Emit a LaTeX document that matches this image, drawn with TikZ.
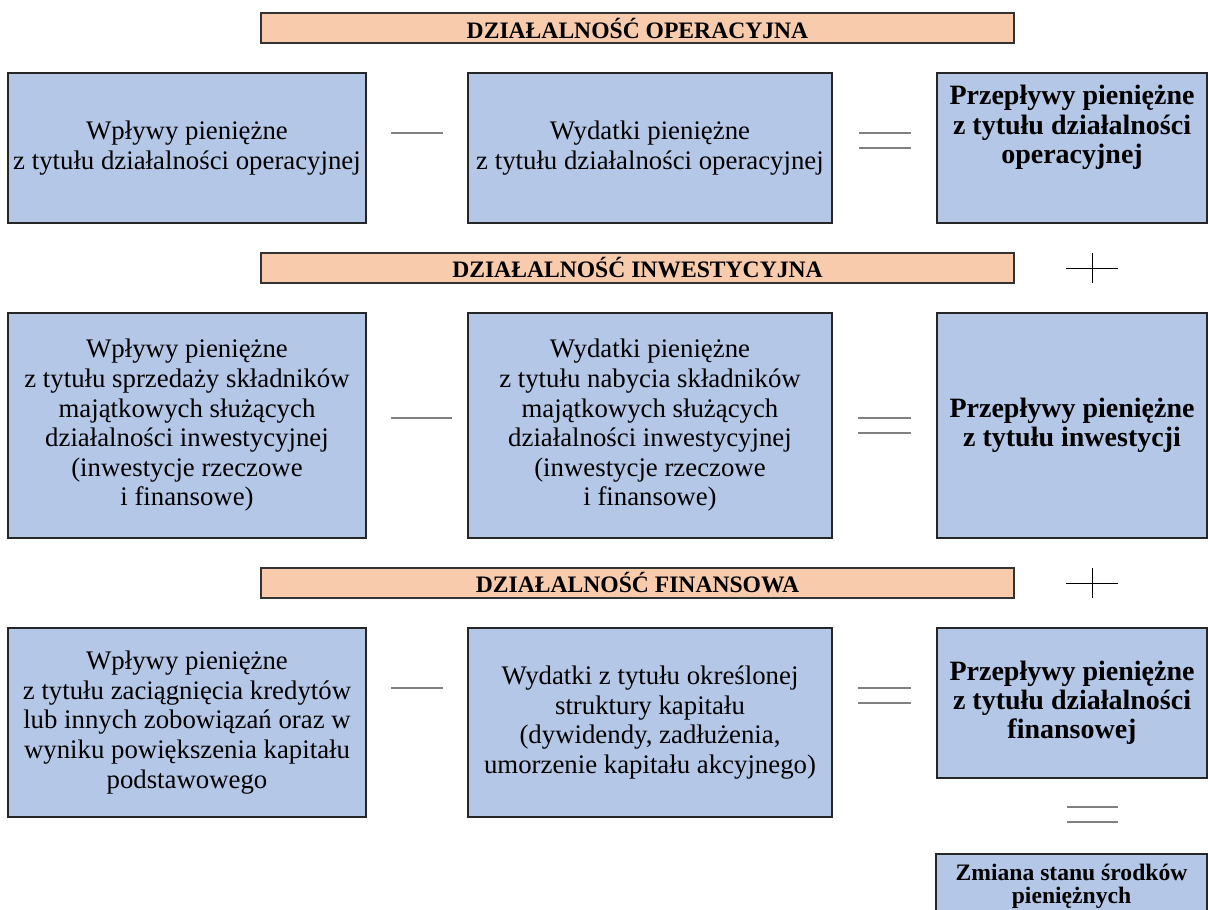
\documentclass[tikz,border=0pt]{standalone}
\usepackage{fontspec}
\setmainfont{Liberation Serif}
\usepackage{xcolor}
\definecolor{niebieski}{HTML}{B4C7E7}
\definecolor{brzoskwinia}{HTML}{F8CBAD}
\definecolor{szary}{HTML}{808080}

\begin{document}
\begin{tikzpicture}[x=0.5pt, y=-0.5pt,
    pole/.style={draw=black!85, line width=0.7pt, fill=niebieski, align=center, inner sep=2pt,
      font=\fontsize{13.4}{14.8}\selectfont},
    wynik/.style={pole, font=\fontsize{14}{14.6}\bfseries\selectfont},
    naglowek/.style={draw=black!80, line width=0.7pt, fill=brzoskwinia, minimum width=376.5pt,
      minimum height=15pt, inner sep=0pt, font=\fontsize{11.8}{13}\bfseries\selectfont},
    znak/.style={draw=szary, line width=0.6pt},
    plus/.style={draw=black, line width=0.5pt}]
    \useasboundingbox (0,0) rectangle (1208,909);
    \clip (0,0) rectangle (1208,909);
    % Naglowki
    \foreach \y/\nazwa/\tekst in {28/op/OPERACYJNA, 268/inw/INWESTYCYJNA, 583/fin/FINANSOWA} {
      \node[naglowek] (nag\nazwa) at (637.5,\y) {DZIAŁALNOŚĆ \tekst};
    }
    % Wiersz 1
    \node[pole, minimum width=179pt, minimum height=75pt] (wplywOp) at (187,148)
      {Wpływy pieniężne\\z tytułu działalności operacyjnej};
    \node[pole, minimum width=182pt, minimum height=75pt] (wydatekOp) at (650,148)
      {Wydatki pieniężne\\z tytułu działalności operacyjnej};
    \node[wynik, minimum width=135pt, minimum height=75pt] (przeplywOp) at (1072,148)
      {Przepływy pieniężne\\z tytułu działalności\\operacyjnej\\[9pt]};
    % Wiersz 2
    \node[pole, minimum width=179pt, minimum height=112.5pt] (wplywInw) at (187,425.5)
      {Wpływy pieniężne\\z tytułu sprzedaży składników\\majątkowych służących\\działalności inwestycyjnej\\(inwestycje rzeczowe\\i finansowe)};
    \node[pole, minimum width=182pt, minimum height=112.5pt] (wydatekInw) at (650,425.5)
      {Wydatki pieniężne\\z tytułu nabycia składników\\majątkowych służących\\działalności inwestycyjnej\\(inwestycje rzeczowe\\i finansowe)};
    \node[wynik, minimum width=135pt, minimum height=112.5pt] (przeplywInw) at (1072,425.5)
      {Przepływy pieniężne\\z tytułu inwestycji};
    % Wiersz 3
    \node[pole, minimum width=179pt, minimum height=94.5pt] (wplywFin) at (187,722.5)
      {Wpływy pieniężne\\z tytułu zaciągnięcia kredytów\\lub innych zobowiązań oraz w\\wyniku powiększenia kapitału\\podstawowego};
    \node[pole, minimum width=182pt, minimum height=94.5pt] (wydatekFin) at (650,722.5)
      {Wydatki z tytułu określonej\\struktury kapitału\\(dywidendy, zadłużenia,\\umorzenie kapitału akcyjnego)};
    \node[wynik, minimum width=135pt, minimum height=75pt] (przeplywFin) at (1072,703)
      {Przepływy pieniężne\\z tytułu działalności\\finansowej};
    % Wynik
    \node[pole, minimum width=135.5pt, minimum height=32.5pt,
      font=\fontsize{11.8}{11.8}\bfseries\selectfont] (zmiana) at (1071.5,886.5)
      {Zmiana stanu środków\\pieniężnych};
    % Znaki
    \foreach \a/\b/\y in {391/443/133, 391/452/418, 391/443/688} {
      \draw[znak] (\a,\y) -- (\b,\y);
    }
    \foreach \a/\b/\y in {859/911/133, 858/911/418, 858/911/688, 1067/1118/807} {
      \draw[znak] (\a,\y) -- (\b,\y);
      \draw[znak] (\a,\y+15) -- (\b,\y+15);
    }
    \foreach \y in {268, 583} {
      \draw[plus] (1066,\y) -- (1118,\y);
      \draw[plus] (1092,\y-15) -- (1092,\y+15);
    }
\end{tikzpicture}
\end{document}
